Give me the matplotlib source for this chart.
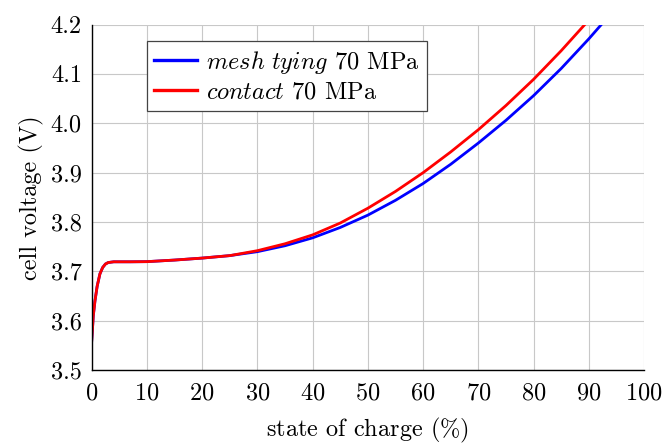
import numpy as np
import matplotlib
matplotlib.use("Agg")
import matplotlib.pyplot as plt

# ── Data ──────────────────────────────────────────────────────────────────────
SOC_LOW = [0, 0.3, 0.6, 1, 1.5, 2, 2.5, 3, 4, 5, 7, 10, 15, 20, 25]
V_LOW   = [3.557, 3.61, 3.64, 3.67, 3.695, 3.708, 3.715, 3.718, 3.7195,
           3.7195, 3.7195, 3.7198, 3.723, 3.727, 3.732]

SOC_MESH = [30, 35, 40, 45, 50, 55, 60, 65, 70, 75, 80, 85, 90, 92.5]
V_MESH   = [3.740, 3.752, 3.768, 3.789, 3.814, 3.844, 3.878, 3.917, 3.960,
            4.006, 4.056, 4.111, 4.171, 4.203]

SOC_CONTACT = [30, 35, 40, 45, 50, 55, 60, 65, 70, 75, 80, 85, 90]
V_CONTACT   = [3.742, 3.756, 3.774, 3.798, 3.828, 3.862, 3.900, 3.942, 3.987,
               4.036, 4.089, 4.147, 4.209]

LABELS = [r"$\mathit{mesh\ tying}$ 70 MPa", r"$\mathit{contact}$ 70 MPa"]
X_TICKS = list(range(0, 101, 10))
Y_TICKS = [3.5, 3.6, 3.7, 3.8, 3.9, 4.0, 4.1, 4.2]

# ── Style ─────────────────────────────────────────────────────────────────────
plt.rcParams["font.family"] = ["cmr10", "DejaVu Serif"]
plt.rcParams["mathtext.fontset"] = "cm"
plt.rcParams["axes.formatter.use_mathtext"] = True
FS = 17.5

fig = plt.figure(figsize=(6.64, 4.46), dpi=100)
ax = fig.add_axes([0.138, 0.170, 0.832, 0.775])

ax.plot(SOC_LOW + SOC_MESH, V_LOW + V_MESH, color="#0000ff", lw=2.0,
        label=LABELS[0])
ax.plot(SOC_LOW + SOC_CONTACT, V_LOW + V_CONTACT, color="#ff0000", lw=2.0,
        label=LABELS[1])

ax.set_xlim(0, 100)
ax.set_ylim(3.5, 4.2)
ax.set_xticks(X_TICKS)
ax.set_yticks(Y_TICKS)
ax.set_yticklabels([f"{v:.1f}" for v in Y_TICKS])
ax.grid(True, color="#c8c8c8", lw=0.8)
ax.set_axisbelow(True)
ax.tick_params(length=0, labelsize=FS)
ax.tick_params(axis="x", pad=9)
ax.tick_params(axis="y", pad=7)

for side in ["top", "right"]:
    ax.spines[side].set_visible(False)
for side in ["left", "bottom"]:
    ax.spines[side].set_linewidth(1.0)

ax.set_xlabel(r"state of charge ($\%$)", fontsize=FS, labelpad=8)
ax.set_ylabel("cell voltage (V)", fontsize=FS, labelpad=5)

leg = ax.legend(loc="upper left", bbox_to_anchor=(0.10, 0.951), fontsize=FS,
                frameon=True, fancybox=False, handlelength=1.75,
                borderaxespad=0, borderpad=0.3, labelspacing=0.25,
                handletextpad=0.4)
leg.get_frame().set_edgecolor("#444444")
leg.get_frame().set_linewidth(0.9)
leg.get_frame().set_alpha(1)
for line in leg.get_lines():
    line.set_linewidth(2.4)

fig.savefig("out.png", dpi=100)
